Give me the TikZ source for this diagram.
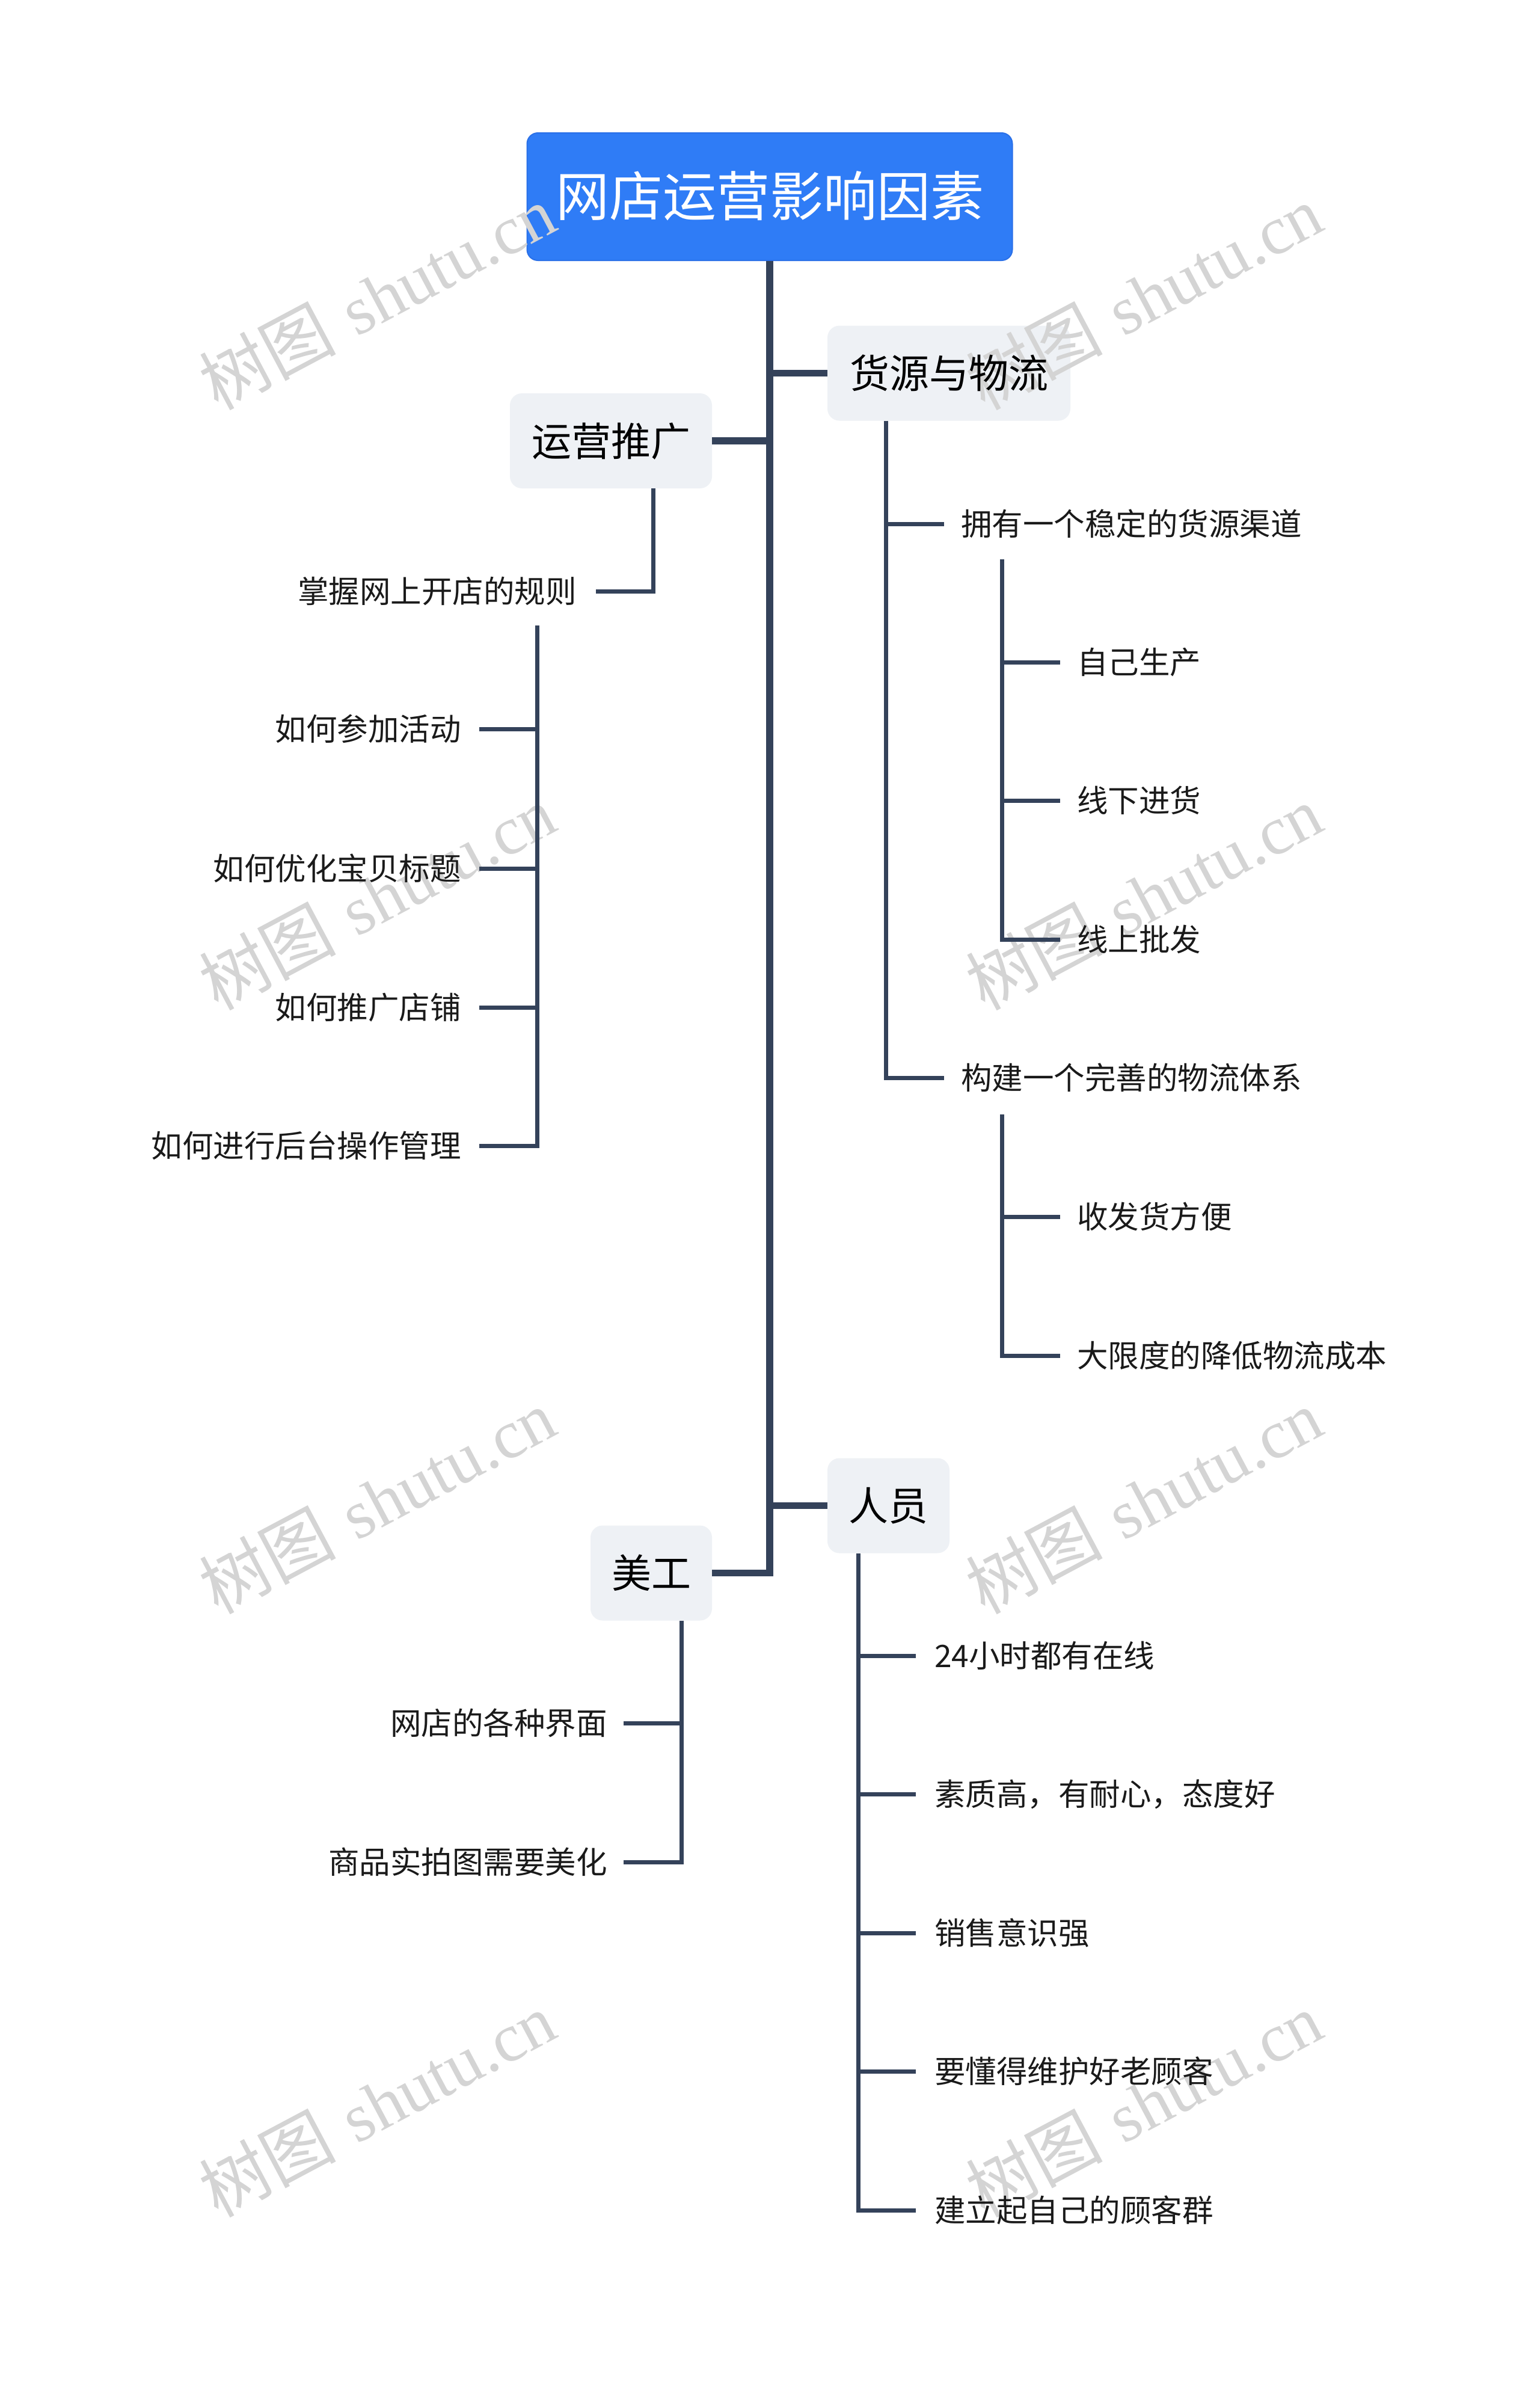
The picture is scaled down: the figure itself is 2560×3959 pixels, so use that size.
\documentclass[tikz,border=0pt]{standalone}
\usepackage{fontspec}
\newfontfamily\cjk{Noto Sans CJK SC}
\newfontfamily\wmlat{Liberation Serif}
\definecolor{rootblue}{RGB}{47,124,246}
\definecolor{rootedge}{RGB}{42,112,232}
\definecolor{boxfill}{RGB}{238,241,245}
\definecolor{linec}{RGB}{52,66,90}
\definecolor{wmc}{RGB}{212,212,212}
\definecolor{txt}{RGB}{26,26,26}
\pgfdeclarelayer{boxes}
\pgfdeclarelayer{wmlayer}
\pgfsetlayers{boxes,wmlayer,main}
\begin{document}
\begin{tikzpicture}[x=1pt,y=-1pt,
  rootbox/.style={draw=rootedge,line width=2pt,fill=rootblue,rounded corners=18pt,
    minimum width=807pt,minimum height=212pt,inner sep=0pt},
  roottext/.style={font=\cjk\fontsize{89}{89}\selectfont,text=white,inner sep=0pt,
    text height=78pt,text depth=11pt},
  branchbox/.style={fill=boxfill,rounded corners=20pt,minimum height=158pt,inner sep=0pt},
  branchtext/.style={font=\cjk\fontsize{66}{66}\selectfont,text=black,inner sep=0pt,
    text height=58pt,text depth=8pt},
  leaf/.style={font=\cjk\fontsize{51.5}{51.5}\selectfont,text=txt,inner sep=0pt,
    text height=45pt,text depth=6pt},
  trunk/.style={draw=linec,line width=11.5pt,line join=miter},
  twig/.style={draw=linec,line width=7pt,line join=miter},
  wmark/.style={text=wmc,rotate=28,inner sep=0pt,anchor=base west,
    font=\fontsize{114}{114}\selectfont}
]
\begin{pgfonlayer}{boxes}
\fill[white] (0,0) rectangle (2560,3959);
\useasboundingbox (0,0) rectangle (2560,3959);
\node[rootbox] (root) at (1280,327) {};
\node[branchbox,minimum width=404pt] (huoyuan) at (1578,620.5) {};
\node[branchbox,minimum width=336pt] (yunying) at (1016,733) {};
\node[branchbox,minimum width=203pt] (renyuan) at (1477.5,2503.5) {};
\node[branchbox,minimum width=202pt] (meigong) at (1083,2615.5) {};
\end{pgfonlayer}

\begin{pgfonlayer}{wmlayer}
\node[wmark] (wm1) at (362,684) {{\cjk 树图} {\wmlat shutu.cn}};
\node[wmark] (wm2) at (1637,684) {{\cjk 树图} {\wmlat shutu.cn}};
\node[wmark] (wm3) at (362,1682) {{\cjk 树图} {\wmlat shutu.cn}};
\node[wmark] (wm4) at (1637,1682) {{\cjk 树图} {\wmlat shutu.cn}};
\node[wmark] (wm5) at (362,2686) {{\cjk 树图} {\wmlat shutu.cn}};
\node[wmark] (wm6) at (1637,2686) {{\cjk 树图} {\wmlat shutu.cn}};
\node[wmark] (wm7) at (362,3689) {{\cjk 树图} {\wmlat shutu.cn}};
\node[wmark] (wm8) at (1637,3689) {{\cjk 树图} {\wmlat shutu.cn}};
\end{pgfonlayer}

% box labels
\node[roottext] (rootlabel) at ([yshift=1.5pt]root.center) {网店运营影响因素};
\node[branchtext] (huoyuanlabel) at (huoyuan.center) {货源与物流};
\node[branchtext] (yunyinglabel) at (yunying.center) {运营推广};
\node[branchtext] (renyuanlabel) at (renyuan.center) {人员};
\node[branchtext] (meigonglabel) at (meigong.center) {美工};

% leaves
\node[leaf,anchor=east] (zhangwo) at (959,983) {掌握网上开店的规则};
\node[leaf,anchor=east] (canjia) at (767,1212) {如何参加活动};
\node[leaf,anchor=east] (youhua) at (767,1444) {如何优化宝贝标题};
\node[leaf,anchor=east] (tuiguang) at (767,1675) {如何推广店铺};
\node[leaf,anchor=east] (houtai) at (767,1905) {如何进行后台操作管理};

\node[leaf,anchor=west] (yongyou) at (1598,871) {拥有一个稳定的货源渠道};
\node[leaf,anchor=west] (ziji) at (1791,1101) {自己生产};
\node[leaf,anchor=west] (xianxia) at (1791,1331) {线下进货};
\node[leaf,anchor=west] (xianshang) at (1791,1562) {线上批发};
\node[leaf,anchor=west] (goujian) at (1598,1792) {构建一个完善的物流体系};
\node[leaf,anchor=west] (shoufa) at (1791,2023) {收发货方便};
\node[leaf,anchor=west] (jiangdi) at (1791,2254) {大限度的降低物流成本};

\node[leaf,anchor=east] (jiemian) at (1010,2865) {网店的各种界面};
\node[leaf,anchor=east] (shangpin) at (1010,3096) {商品实拍图需要美化};

\node[leaf,anchor=west] (zaixian) at (1554,2753) {24小时都有在线};
\node[leaf,anchor=west] (suzhi) at (1554,2983) {素质高，有耐心，态度好};
\node[leaf,anchor=west] (xiaoshou) at (1554,3214) {销售意识强};
\node[leaf,anchor=west] (laoguke) at (1554,3444) {要懂得维护好老顾客};
\node[leaf,anchor=west] (jianli) at (1554,3675) {建立起自己的顾客群};

% trunk
\draw[trunk] (root.south) |- (meigong.east);
\draw[trunk] (root.south |- huoyuan.west) -- (huoyuan.west);
\draw[trunk] (yunying.east) -- (root.south |- yunying.east);
\draw[trunk] (root.south |- renyuan.west) -- (renyuan.west);

% 运营推广
\coordinate (yyBot) at ([xshift=70pt]yunying.south);
\draw[twig] (yyBot) |- ([xshift=32pt]zhangwo.east);
\coordinate (zwTop) at (893,1040);
\draw[twig] (zwTop) |- ([xshift=30pt]houtai.east);
\foreach \n in {canjia,youhua,tuiguang}
  \draw[twig] (zwTop |- \n.east) -- ([xshift=30pt]\n.east);

% 货源与物流
\coordinate (hyBot) at ([xshift=-105pt]huoyuan.south);
\draw[twig] (hyBot) |- ([xshift=-28pt]goujian.west);
\draw[twig] (hyBot |- yongyou.west) -- ([xshift=-28pt]yongyou.west);
\coordinate (yoTop) at (1666,930);
\draw[twig] (yoTop) |- ([xshift=-28pt]xianshang.west);
\foreach \n in {ziji,xianxia}
  \draw[twig] (yoTop |- \n.west) -- ([xshift=-28pt]\n.west);
\coordinate (gjTop) at (1666,1853);
\draw[twig] (gjTop) |- ([xshift=-28pt]jiangdi.west);
\draw[twig] (gjTop |- shoufa.west) -- ([xshift=-28pt]shoufa.west);

% 美工
\coordinate (mgBot) at ([xshift=50pt]meigong.south);
\draw[twig] (mgBot) |- ([xshift=27pt]shangpin.east);
\draw[twig] (mgBot |- jiemian.east) -- ([xshift=27pt]jiemian.east);

% 人员
\coordinate (ryBot) at ([xshift=-50.5pt]renyuan.south);
\draw[twig] (ryBot) |- ([xshift=-31pt]jianli.west);
\foreach \n in {zaixian,suzhi,xiaoshou,laoguke}
  \draw[twig] (ryBot |- \n.west) -- ([xshift=-31pt]\n.west);
\end{tikzpicture}
\end{document}
